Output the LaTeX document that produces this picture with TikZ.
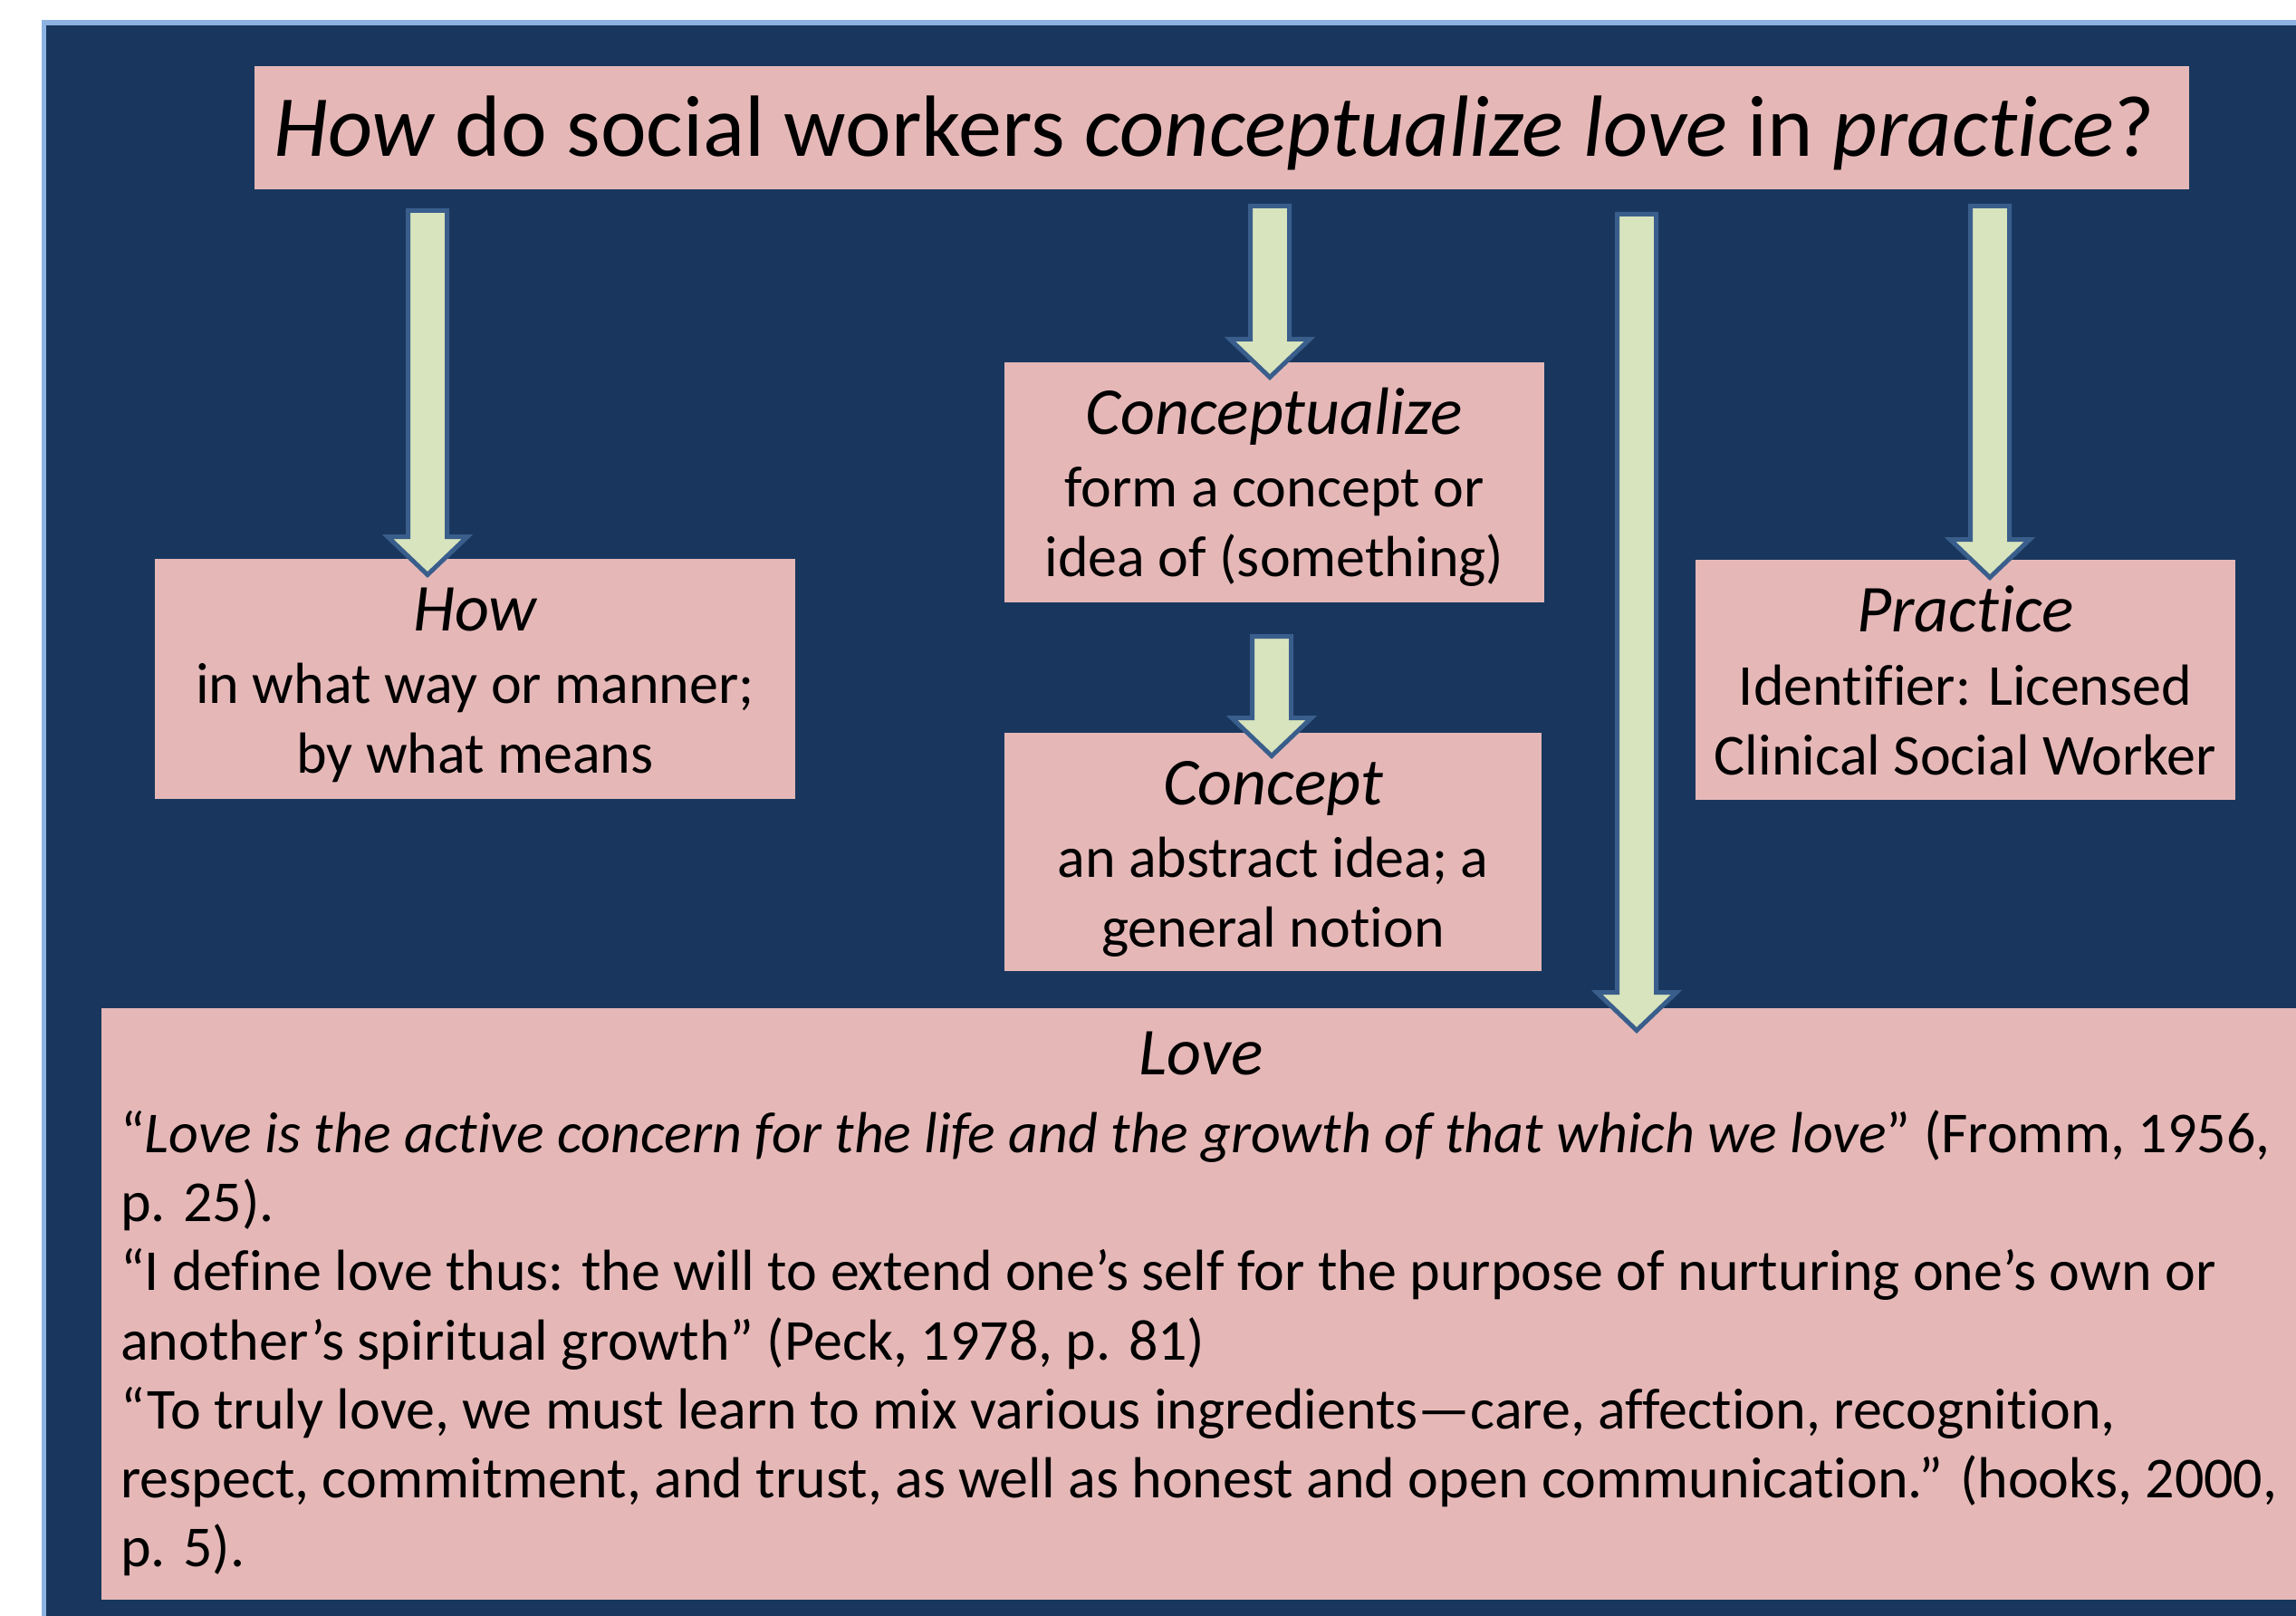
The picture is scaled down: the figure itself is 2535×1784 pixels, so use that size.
\documentclass[tikz,border=0pt]{standalone}
\usepackage{fontspec}
\setmainfont{Carlito}[Ligatures=NoCommon]
\usetikzlibrary{calc}

\definecolor{pagenavy}{HTML}{19375E}
\definecolor{frameblue}{HTML}{8DB3E2}
\definecolor{boxpink}{HTML}{E5B8B7}
\definecolor{arrowfill}{HTML}{D7E4BD}
\definecolor{arrowline}{HTML}{3A5E8C}

\tikzset{
  pinkbox/.style={rectangle, fill=boxpink, draw=none, inner sep=0pt},
  titletext/.style={inner sep=0pt, anchor=base west, font=\fontsize{96}{115}\selectfont},
  headtext/.style={inner sep=0pt, anchor=base, font=\fontsize{74}{88}\selectfont\itshape},
  bodytext/.style={inner sep=0pt, anchor=base, font=\fontsize{64}{77}\selectfont},
  quotetext/.style={inner sep=0pt, anchor=base west, font=\fontsize{64}{77}\selectfont},
  blockarrow/.style={fill=arrowfill, draw=arrowline, line width=5pt, line join=miter},
}

% block arrow from the top of its shaft (#1) down to its tip (#2)
\newcommand\blockarrow[2]{%
  \draw[blockarrow]
    ($(#1)+(-21.5,2.5)$) -- ($(#2)+(-21.5,-45.5)$) -- ($(#2)+(-44,-45.5)$)
    -- ($(#2)+(0,-3.5)$) -- ($(#2)+(44,-45.5)$) -- ($(#2)+(21.5,-45.5)$)
    -- ($(#1)+(21.5,2.5)$) -- cycle;}

\begin{document}
\begin{tikzpicture}[x=1pt, y=-1pt]
  \useasboundingbox (0,0) rectangle (2535,1784);
  \fill[white] (0,0) rectangle (2535,1784);
  \fill[frameblue] (46,22) rectangle (2535,1784);
  \fill[pagenavy] (51,28) rectangle (2535,1784);

  % boxes
  \node[pinkbox, minimum width=2136pt, minimum height=136pt] (title) at (1349,141) {};
  \node[pinkbox, minimum width=707pt, minimum height=265pt] (howbox) at (524.5,749.5) {};
  \node[pinkbox, minimum width=596pt, minimum height=265pt] (conzbox) at (1407,532.5) {};
  \node[pinkbox, minimum width=593pt, minimum height=263pt] (concbox) at (1405.5,940.5) {};
  \node[pinkbox, minimum width=596pt, minimum height=265pt] (pracbox) at (2170,750.5) {};
  \node[pinkbox, minimum width=2428pt, minimum height=653pt] (lovebox) at (1326,1439.5) {};

  % title
  \node[titletext] (qtext) at (302,173)
    {\textit{How} do social workers \textit{conceptualize love} in \textit{practice}?};

  % How
  \node[headtext] (how-h) at (524.5,696) {How};
  \node[bodytext] (how-1) at (524.5,776) {in what way or manner;};
  \node[bodytext] (how-2) at (524.5,853) {by what means};

  % Conceptualize
  \node[headtext] (conz-h) at (1407,479) {Conceptualize};
  \node[bodytext] (conz-1) at (1407,559) {form a concept or};
  \node[bodytext] (conz-2) at (1407,636) {idea of (something)};

  % Concept
  \node[headtext] (conc-h) at (1405.5,888) {Concept};
  \node[bodytext] (conc-1) at (1405.5,968) {an abstract idea; a};
  \node[bodytext] (conc-2) at (1405.5,1045) {general notion};

  % Practice
  \node[headtext] (prac-h) at (2170,697) {Practice};
  \node[bodytext] (prac-1) at (2170,778) {Identifier: Licensed};
  \node[bodytext] (prac-2) at (2170,855) {Clinical Social Worker};

  % Love
  \node[headtext] (love-h) at (1326,1186) {Love};
  \node[quotetext] (love-1) at (133,1272) {“\textit{Love is the active concern for the life and the growth of that which we love}” (Fromm, 1956,};
  \node[quotetext] (love-2) at (133,1348) {p. 25).};
  \node[quotetext] (love-3) at (133,1424) {“I define love thus: the will to extend one’s self for the purpose of nurturing one’s own or};
  \node[quotetext] (love-4) at (133,1501) {another’s spiritual growth” (Peck, 1978, p. 81)};
  \node[quotetext] (love-5) at (133,1577) {“To truly love, we must learn to mix various ingredients—care, affection, recognition,};
  \node[quotetext] (love-6) at (133,1653) {respect, commitment, and trust, as well as honest and open communication.” (hooks, 2000,};
  \node[quotetext] (love-7) at (133,1729) {p. 5).};

  % arrow ends: shaft tops below the title, tips on the boxes
  \coordinate (a1s) at (472,230);  \coordinate (a1e) at (472,638);
  \coordinate (a2s) at (1402,225); \coordinate (a2e) at (1402,420);
  \coordinate (a3s) at (1807,234); \coordinate (a3e) at (1807,1141);
  \coordinate (a4s) at (2197,225); \coordinate (a4e) at (2197,641);
  \coordinate (a5s) at (1404,700); \coordinate (a5e) at (1404,838);

  \blockarrow{a1s}{a1e}
  \blockarrow{a2s}{a2e}
  \blockarrow{a3s}{a3e}
  \blockarrow{a4s}{a4e}
  \blockarrow{a5s}{a5e}
\end{tikzpicture}
\end{document}
